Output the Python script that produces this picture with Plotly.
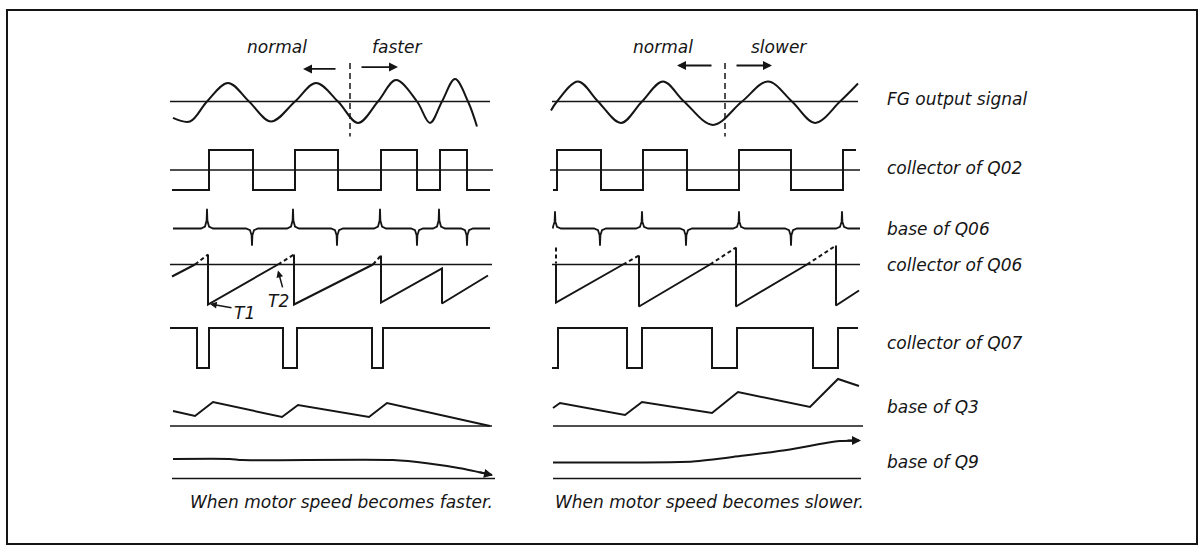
import plotly.graph_objects as go

W, H = 1204, 547
INK = "#151515"
FONT = "DejaVu Sans"

# ---------------- data (time axis in arbitrary units, levels in signal units) -------------
# FG output signal (sine-like), extremes and zero crossings
FG_L_T = [173, 190, 207, 228, 249, 271, 295, 316, 338, 358, 378, 396, 417, 430, 442, 455, 468, 477]
FG_L_V = [-0.82, -1.0, 0, 0.93, 0, -1.0, 0, 0.93, 0, -1.07, 0, 1.07, 0, -1.07, 0, 1.12, 0, -1.25]
FG_R_T = [551, 557, 578, 598, 621, 642, 663, 684, 713, 742, 768, 792, 815, 840, 858]
FG_R_V = [-0.45, 0, 1.0, 0, -1.07, 0, 1.0, 0, -1.17, 0, 1.0, 0, -1.07, 0, 0.9]

# collector of Q02 (square wave): change times and levels (hv steps)
Q02_L_T = [172, 209, 253, 295, 338, 381, 417, 440, 467, 490]
Q02_L_V = [-1, 1, -1, 1, -1, 1, -1, 1, -1, -1]
Q02_R_T = [553, 557, 601, 643, 687, 739, 791, 843, 856]
Q02_R_V = [-1, 1, -1, 1, -1, 1, -1, 1, 1]

# base of Q06 (differentiated pulses)
Q06B_L_POS = [207, 293, 380, 439]
Q06B_L_NEG = [252, 337, 417, 467]
Q06B_R_POS = [555, 642, 739, 842]
Q06B_R_NEG = [600, 686, 791]
SPIKE_DT = [-6, -2, -0.4, 0, 0.4, 2, 6]
SPIKE_V = [0, 0.1, 0.4, 1.0, 0.4, 0.1, 0]

# collector of Q06 (sawtooth): solid and dashed parts, None = break
Q06C_L_T = [172, 195, None, 208, 208, 278, None, 294, 294, 373, None, 381, 381, 442, 442, 488]
Q06C_L_V = [-0.6, 0, None, 0.5, -2.0, 0, None, 0.5, -2.0, 0, None, 0.45, -1.9, -0.2, -1.95, -0.55]
Q06C_L_DT = [195, 208, None, 278, 294, None, 373, 381]
Q06C_L_DV = [0, 0.5, None, 0, 0.5, None, 0, 0.45]
Q06C_R_T = [556, 556, 623, None, 639, 639, 710, None, 736, 736, 807, None, 836, 836, 859]
Q06C_R_V = [0, -1.9, 0, None, 0.45, -2.1, 0, None, 0.85, -2.1, 0, None, 0.95, -2.05, -1.3]
Q06C_R_DT = [556, 556, None, 623, 639, None, 710, 736, None, 807, 836]
Q06C_R_DV = [0.85, 0.05, None, 0, 0.45, None, 0, 0.85, None, 0, 0.95]

# collector of Q07 (pulses)
Q07_L_T = [170, 197, 209, 283, 297, 372, 383, 490]
Q07_L_V = [1, 0, 1, 0, 1, 0, 1, 1]
Q07_R_T = [552, 558, 627, 642, 712, 737, 813, 838, 858]
Q07_R_V = [0, 1, 0, 1, 0, 1, 0, 1, 1]

# base of Q3
Q3_L_T = [173, 195, 213, 282, 298, 369, 387, 490]
Q3_L_V = [0.75, 0.5, 1.2, 0.45, 1.05, 0.45, 1.15, 0]
Q3_R_T = [553, 560, 625, 642, 712, 738, 810, 838, 859]
Q3_R_V = [0.9, 1.15, 0.55, 1.2, 0.65, 1.7, 0.95, 2.35, 2.0]

# base of Q9
Q9_L_T = [173, 230, 242, 393, 427, 460, 492]
Q9_L_V = [0.98, 0.98, 0.92, 0.92, 0.76, 0.51, 0.18]
Q9_R_T = [553, 693, 740, 790, 823, 840, 859]
Q9_R_V = [0.8, 0.85, 1.12, 1.45, 1.75, 1.87, 1.9]

# reference (zero) lines extents
BASE_FG = ([170, 490], [552, 858])
BASE_Q02 = ([170, 493], [550, 860])
BASE_Q06C = ([170, 492], [552, 860])
BASE_Q3 = ([170, 492], [553, 863])
BASE_Q9 = ([172, 495], [553, 861])
Q06B_EXT = ([173, 490], [553, 860])

LABELS = ["FG output signal", "collector of Q02", "base of Q06", "collector of Q06",
          "collector of Q07", "base of Q3", "base of Q9"]
HEAD_L = ["normal", "faster"]
HEAD_R = ["normal", "slower"]
CAPTIONS = ["When motor speed becomes faster.", "When motor speed becomes slower."]

# ---------------- layout of rows: (axis index, baseline px, px per unit) ----------------
ROWS = {"fg": (1, 101.5, 20), "q02": (2, 170, 20), "q06b": (3, 228.5, 18),
        "q06c": (4, 264.5, 20), "q07": (5, 368, 40), "q3": (6, 426, 20), "q9": (7, 478.5, 20)}


def yref(row):
    i = ROWS[row][0]
    return "y" if i == 1 else f"y{i}"


fig = go.Figure()


def add(row, t, v, dash=None, shape="linear", width=2.0, smoothing=None):
    line = dict(color=INK, width=width, shape=shape)
    if dash:
        line["dash"] = dash
    if smoothing is not None:
        line["smoothing"] = smoothing
    fig.add_trace(go.Scatter(x=t, y=v, mode="lines", line=line, yaxis=yref(row),
                             xaxis="x", hoverinfo="skip", showlegend=False,
                             connectgaps=False))


def spikes(ext, pos, neg, pos_amp, neg_amp):
    start, end = ext
    ev = sorted([(e, pos_amp) for e in pos] + [(e, neg_amp) for e in neg])
    t, v = [start], [0]
    for e, a in ev:
        for dt, sv in zip(SPIKE_DT, SPIKE_V):
            x = e + dt
            if start <= x <= end:
                t.append(x)
                v.append(sv * a)
    t.append(end)
    v.append(0)
    return t, v


# baselines
for row, base in [("fg", BASE_FG), ("q02", BASE_Q02), ("q06c", BASE_Q06C),
                  ("q3", BASE_Q3), ("q9", BASE_Q9)]:
    for ext in base:
        add(row, ext, [0, 0], width=1.6)

# FG
add("fg", FG_L_T, FG_L_V, shape="spline", smoothing=1.0)
add("fg", FG_R_T, FG_R_V, shape="spline", smoothing=1.0)
# Q02
add("q02", Q02_L_T, Q02_L_V, shape="hv")
add("q02", Q02_R_T, Q02_R_V, shape="hv")
# Q06 base
t, v = spikes(Q06B_EXT[0], Q06B_L_POS, Q06B_L_NEG, 1.1, -0.95)
add("q06b", t, v, width=1.8)
t, v = spikes(Q06B_EXT[1], Q06B_R_POS, Q06B_R_NEG, 0.95, -0.95)
add("q06b", t, v, width=1.8)
# Q06 collector
add("q06c", Q06C_L_T, Q06C_L_V)
add("q06c", Q06C_L_DT, Q06C_L_DV, dash="4px,3px")
add("q06c", Q06C_R_T, Q06C_R_V)
add("q06c", Q06C_R_DT, Q06C_R_DV, dash="4px,3px")
# Q07
add("q07", Q07_L_T, Q07_L_V, shape="hv")
add("q07", Q07_R_T, Q07_R_V, shape="hv")
# Q3
add("q3", Q3_L_T, Q3_L_V)
add("q3", Q3_R_T, Q3_R_V)
# Q9
add("q9", Q9_L_T, Q9_L_V, shape="spline", smoothing=0.6)
add("q9", Q9_R_T, Q9_R_V, shape="spline", smoothing=0.6)

# dashed separators normal / changed
add("fg", [350, 350], [1.93, -1.75], dash="6px,4px", width=1.5)
add("fg", [725, 725], [1.93, -1.75], dash="6px,4px", width=1.5)

annotations = []


def arrow(row, x, y, ax, ay, head=2, size=1.0, width=1.8):
    r = yref(row)
    annotations.append(dict(x=x, y=y, ax=ax, ay=ay, xref="x", yref=r, axref="x", ayref=r,
                            text="", showarrow=True, arrowhead=head, arrowsize=size,
                            arrowwidth=width, arrowcolor=INK))


def label(x, y, text, size=17, xanchor="center", xref="paper", yr="paper"):
    annotations.append(dict(x=x, y=y, xref=xref, yref=yr, text=f"<i>{text}</i>",
                            showarrow=False, xanchor=xanchor, yanchor="middle",
                            font=dict(family=FONT, size=size, color=INK)))


def px2paper(px, py):
    return px / W, 1 - py / H


# top direction arrows
arrow("fg", 303, 1.63, 337, 1.63)
arrow("fg", 398, 1.72, 360, 1.72)
arrow("fg", 677, 1.8, 713, 1.8)
arrow("fg", 772, 1.8, 735, 1.8)
# Q9 arrow heads
arrow("q9", 493, 0.16, 478, 0.33, size=1.0)
arrow("q9", 861, 1.9, 846, 1.9, size=1.0)
# T1 / T2 pointers
arrow("q06c", 210, -1.97, 233, -2.17, head=2, size=0.9, width=1.5)
arrow("q06c", 278, -0.3, 283, -1.22, head=2, size=0.9, width=1.5)

# heading words
for (px, txt) in zip([277, 397], HEAD_L):
    x, y = px2paper(px, 47)
    label(x, y, txt)
for (px, txt) in zip([663, 779], HEAD_R):
    x, y = px2paper(px, 47)
    label(x, y, txt)

# T1 T2
x, y = px2paper(244, 313)
label(x, y, "T1", size=17)
x, y = px2paper(278, 301)
label(x, y, "T2", size=17)

# signal names
for py, txt in zip([99, 168, 229, 265, 343, 407, 462], LABELS):
    x, y = px2paper(885, py)
    label(x, y, txt, xanchor="left")

# captions
for px, txt in zip([188, 553], CAPTIONS):
    x, y = px2paper(px, 502)
    label(x, y, txt, xanchor="left")

layout_axes = {}
for name, (idx, B, U) in ROWS.items():
    key = "yaxis" if idx == 1 else f"yaxis{idx}"
    ax = dict(range=[(B - H) / U, B / U], domain=[0, 1], visible=False, fixedrange=True,
              anchor="x")
    if idx > 1:
        ax["overlaying"] = "y"
    layout_axes[key] = ax

fig.update_layout(
    width=W, height=H, margin=dict(l=0, r=0, t=0, b=0),
    paper_bgcolor="white", plot_bgcolor="white", showlegend=False,
    xaxis=dict(range=[0, W], domain=[0, 1], visible=False, fixedrange=True),
    annotations=annotations,
    shapes=[dict(type="rect", xref="paper", yref="paper",
                 x0=7 / W, x1=1197 / W, y0=1 - 544 / H, y1=1 - 10 / H,
                 line=dict(color=INK, width=2), fillcolor="rgba(0,0,0,0)")],
    **layout_axes,
)

fig.write_html("out.html", config={"displayModeBar": False},
               post_script="document.body.style.margin='0';document.body.style.overflow='hidden';")
